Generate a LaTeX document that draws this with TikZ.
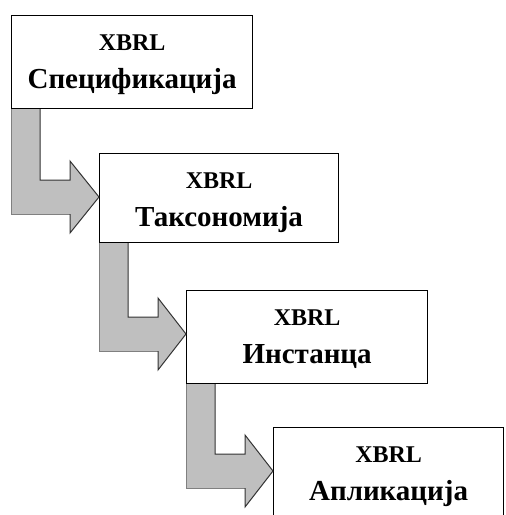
\documentclass[tikz,border=0pt]{standalone}
\usepackage{fontspec}
\setmainfont{Liberation Serif}
\usetikzlibrary{calc}
\begin{document}
\begin{tikzpicture}[x=1pt,y=-1pt,
  stagebox/.style={draw=black, line width=1.2pt, fill=white, inner sep=0pt, anchor=north west},
  topline/.style={anchor=base, font=\bfseries\fontsize{24}{24}\selectfont},
  mainline/.style={anchor=base, font=\bfseries\fontsize{29}{29}\selectfont},
  arrowbody/.style={fill=black!25},
  arrowouter/.style={draw=black!50, line width=1pt},
  arrowinner/.style={draw=black!80, line width=1pt, line join=miter}
]
\useasboundingbox (0,0) rectangle (506,515);

% stage boxes
\node[stagebox, minimum width=241pt, minimum height=93pt] (b1) at (11,15) {};
\node[stagebox, minimum width=239pt, minimum height=89pt] (b2) at (99,153) {};
\node[stagebox, minimum width=241pt, minimum height=93pt] (b3) at (186,290) {};
\begin{scope}
  \clip (0,0) rectangle (506,515);
  \node[stagebox, minimum width=230pt, minimum height=100pt] (b4) at (273,427) {};
\end{scope}

% labels
\foreach \b/\t in {b1/Спецификација, b2/Таксономија, b3/Инстанца, b4/Апликација}{
  \node[topline] (\b-top) at ($(\b.north)+(0,35)$) {XBRL};
  \node[mainline] (\b-main) at ($(\b.north)+(0,73)$) {\t};
}

% bent block arrows between consecutive stages
\foreach \a/\b in {b1/b2, b2/b3, b3/b4}{
  \coordinate (\a-tip) at ($(\b.north west)+(0,44)$);
  \coordinate (\a-c) at (\a.south west |- \a-tip);
  \fill[arrowbody] (\a.south west) -- ($(\a.south west)+(29,0)$)
    -- ($(\a-c)+(29,-17)$) -- ($(\a-c)+(59,-17)$) -- ($(\a-c)+(59,-36)$)
    -- (\a-tip) -- ($(\a-c)+(59,36)$) -- ($(\a-c)+(59,17)$)
    -- ($(\a-c)+(0,17)$) -- cycle;
  \draw[arrowouter] (\a.south west) -- ($(\a-c)+(0,17)$) -- ($(\a-c)+(59,17)$);
  \draw[arrowinner] ($(\a.south west)+(29,0)$)
    -- ($(\a-c)+(29,-17)$) -- ($(\a-c)+(59,-17)$) -- ($(\a-c)+(59,-36)$)
    -- (\a-tip) -- ($(\a-c)+(59,36)$) -- ($(\a-c)+(59,17)$);
}
\end{tikzpicture}
\end{document}
